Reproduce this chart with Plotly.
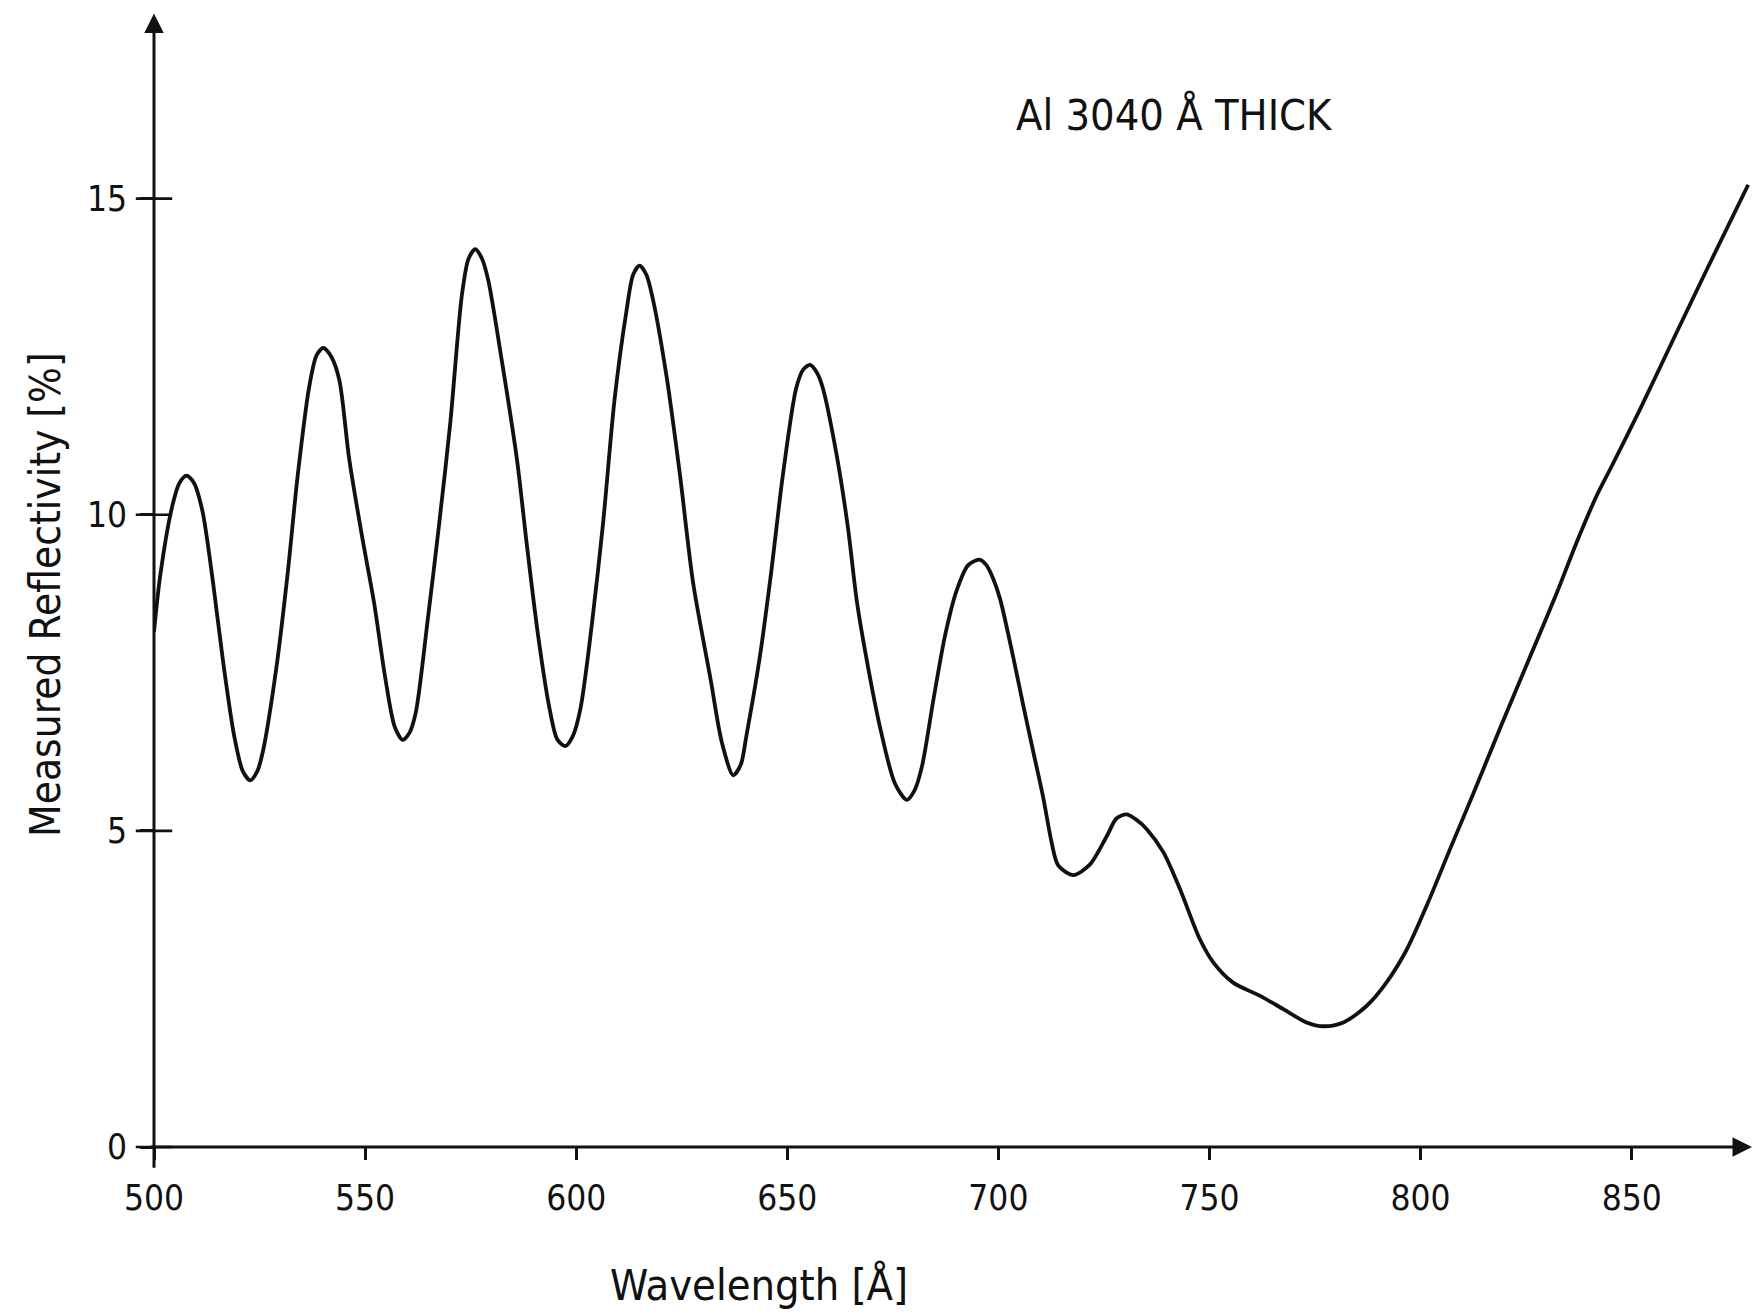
import plotly.graph_objects as go

# Measured reflectivity of a 3040 Å thick Al film
wavelength = [
    500.0, 501.5, 504.3, 506.0, 507.7, 509.5, 511.5, 514.0, 516.3, 519.0,
    521.0, 522.8, 524.5, 525.8, 529.0, 531.7, 534.0, 536.7, 538.5, 540.1,
    542.0, 543.9, 546.2, 549.3, 552.1, 554.8, 557.0, 558.9, 560.5, 562.0,
    564.8, 567.5, 570.2, 572.9, 574.5, 576.1, 577.7, 579.2, 582.4, 586.0,
    588.3, 591.0, 593.7, 595.5, 597.4, 599.2, 601.0, 603.7, 606.4, 609.1,
    611.9, 613.5, 615.0, 616.6, 618.2, 621.4, 624.6, 627.7, 631.8, 634.5,
    637.2, 639.0, 640.3, 643.4, 646.2, 648.9, 652.1, 653.8, 655.4, 657.0,
    658.4, 661.6, 664.3, 666.5, 668.8, 672.0, 675.5, 678.3, 680.2, 681.9,
    684.7, 687.4, 690.1, 692.8, 695.5, 697.2, 698.7, 700.4, 703.6, 705.9,
    708.3, 710.7, 712.6, 714.2, 717.8, 721.7, 725.7, 728.0, 730.4, 733.0,
    735.1, 739.1, 743.0, 747.7, 750.9, 755.6, 762.0, 767.5, 773.0, 777.0,
    781.7, 787.2, 791.9, 796.7, 801.4, 806.9, 812.5, 818.8, 825.9, 832.3,
    837.0, 841.7, 844.9, 852.0, 859.9, 867.8, 877.6,
]
reflectivity = [
    8.15, 9.05, 10.13, 10.50, 10.62, 10.50, 10.05, 8.92, 7.71, 6.50,
    5.95, 5.80, 5.95, 6.26, 7.59, 9.10, 10.60, 12.00, 12.52, 12.64,
    12.50, 12.13, 10.90, 9.65, 8.62, 7.41, 6.65, 6.44, 6.55, 6.87,
    8.32, 9.83, 11.47, 13.46, 14.05, 14.20, 14.05, 13.70, 12.43, 10.86,
    9.53, 8.08, 6.93, 6.45, 6.34, 6.50, 6.93, 8.26, 9.89, 11.83,
    13.22, 13.80, 13.94, 13.80, 13.40, 12.19, 10.62, 8.92, 7.41, 6.40,
    5.88, 6.05, 6.50, 7.71, 9.10, 10.60, 12.00, 12.30, 12.37, 12.25,
    12.01, 10.98, 9.83, 8.62, 7.71, 6.63, 5.75, 5.49, 5.65, 6.02,
    7.11, 8.10, 8.80, 9.20, 9.29, 9.20, 9.00, 8.67, 7.72, 6.98,
    6.24, 5.50, 4.82, 4.45, 4.30, 4.47, 4.92, 5.20, 5.26, 5.16,
    5.03, 4.66, 4.08, 3.29, 2.92, 2.60, 2.39, 2.18, 1.97, 1.91,
    1.97, 2.23, 2.60, 3.12, 3.81, 4.70, 5.59, 6.62, 7.75, 8.77,
    9.57, 10.30, 10.72, 11.67, 12.78, 13.88, 15.22,
]

x_ticks = [500, 550, 600, 650, 700, 750, 800, 850]
y_ticks = [0, 5, 10, 15]

x_range = [500, 878.5]
y_range = [0, 18]

FONT = "'DejaVu Sans Condensed', 'Liberation Sans Narrow', 'Roboto Condensed', 'DejaVu Sans', sans-serif"
INK = "#111111"

fig = go.Figure()

fig.add_trace(go.Scatter(
    x=wavelength, y=reflectivity, mode="lines",
    line=dict(color=INK, width=3.8, shape="spline", smoothing=0.8),
    showlegend=False, hoverinfo="skip",
))

# right-hand half of the crossing ticks on the y axis
fig.add_trace(go.Scatter(
    x=[x_range[0]] * len(y_ticks), y=y_ticks, mode="markers",
    marker=dict(symbol="line-ew", size=26, line=dict(width=2.6, color=INK)),
    cliponaxis=False, showlegend=False, hoverinfo="skip",
))

annotations = [
    # x axis with arrow
    dict(x=x_range[1], y=0, ax=x_range[0] - 1.2, ay=0, xref="x", yref="y",
         axref="x", ayref="y", text="", showarrow=True, arrowhead=2,
         arrowsize=1.3, arrowwidth=3, arrowcolor=INK, standoff=0),
    # y axis with arrow
    dict(x=x_range[0], y=17.93, ax=x_range[0], ay=-0.35, xref="x", yref="y",
         axref="x", ayref="y", text="", showarrow=True, arrowhead=2,
         arrowsize=1.3, arrowwidth=3, arrowcolor=INK, standoff=0),
    dict(x=741.8, y=16.33, xref="x", yref="y", text="Al 3040 Å THICK",
         showarrow=False, font=dict(family=FONT, size=43, color=INK),
         xanchor="center", yanchor="middle"),
    dict(x=0.3786, y=-0.121, xref="paper", yref="paper", text="Wavelength [Å]",
         showarrow=False, font=dict(family=FONT, size=43, color=INK),
         xanchor="center", yanchor="middle"),
    dict(x=-0.0676, y=0.486, xref="paper", yref="paper",
         text="Measured Reflectivity [%]",
         showarrow=False, textangle=-90, font=dict(family=FONT, size=42, color=INK),
         xanchor="center", yanchor="middle"),
]

fig.update_layout(
    width=1757, height=1315,
    margin=dict(l=154, r=5, t=9, b=168),
    paper_bgcolor="white", plot_bgcolor="white",
    showlegend=False,
    annotations=annotations,
    xaxis=dict(
        range=x_range, tickvals=x_ticks, ticktext=[str(v) for v in x_ticks],
        ticks="outside", ticklen=12, tickwidth=2.6, tickcolor=INK,
        showline=False, showgrid=False, zeroline=False,
        tickfont=dict(family=FONT, size=35, color=INK), ticklabelstandoff=8,
    ),
    yaxis=dict(
        range=y_range, tickvals=y_ticks, ticktext=[str(v) for v in y_ticks],
        ticks="outside", ticklen=13, tickwidth=2.6, tickcolor=INK,
        showline=False, showgrid=False, zeroline=False,
        tickfont=dict(family=FONT, size=35, color=INK), ticklabelstandoff=6,
    ),
)

fig.write_html("out.html")
